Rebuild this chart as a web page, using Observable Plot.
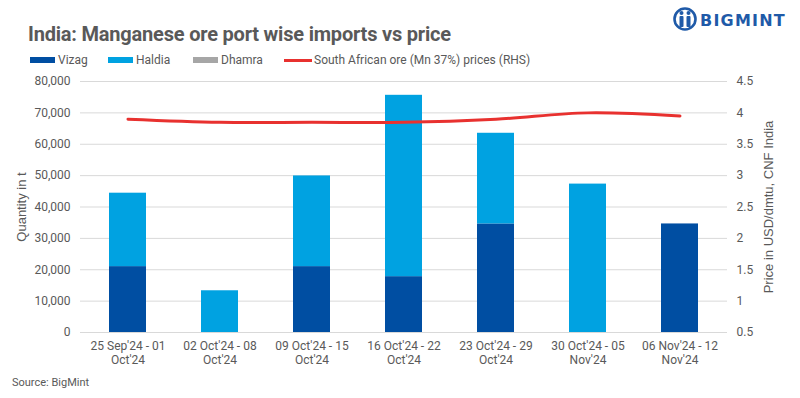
<!DOCTYPE html>
<html><head><meta charset="utf-8">
<script src="https://cdn.jsdelivr.net/npm/d3@7"></script>
<script src="https://cdn.jsdelivr.net/npm/@observablehq/plot@0.6"></script>
<style>
body{margin:0;width:800px;height:398px;overflow:hidden;background:#fff;font-family:Roboto,"Noto Sans",sans-serif;position:relative;color:#595959}
#title{position:absolute;left:28px;top:22px;font-size:20px;font-weight:700;color:#595959;letter-spacing:-0.2px}
#legend{position:absolute;left:0;top:52px;width:800px;height:16px;font-size:12px;color:#595959}
.item{position:absolute;top:0;display:flex;align-items:center;height:16px;white-space:nowrap}
.sw{display:inline-block;width:25px;height:6px;margin-right:3px}
#chart{position:absolute;left:0;top:70px}
#source{position:absolute;left:12px;top:376px;font-size:11px;color:#595959}
#logo{position:absolute;left:672px;top:5px}
</style></head>
<body>
<div id="title">India: Manganese ore port wise imports vs price</div>
<div id="legend"></div>
<div id="chart"></div>
<div id="source">Source: BigMint</div>
<svg id="logo" width="125" height="28" viewBox="0 0 125 28">
  <circle cx="13" cy="14" r="10.5" fill="none" stroke="#1f5aa8" stroke-width="2.6"/>
  <circle cx="9.5" cy="8" r="2" fill="#1f5aa8"/>
  <circle cx="16.5" cy="8" r="2" fill="#1f5aa8"/>
  <rect x="7.5" y="11" width="4" height="11" rx="1" fill="#1f5aa8"/>
  <rect x="14.5" y="11" width="4" height="11" rx="1" fill="#1f5aa8"/>
  <text x="28" y="21" font-family="'DejaVu Sans',sans-serif" font-weight="700" font-size="16" letter-spacing="1.2" fill="#1f5aa8">BIGMINT</text>
</svg>
<script>
const categories = ["25 Sep'24 - 01 Oct'24","02 Oct'24 - 08 Oct'24","09 Oct'24 - 15 Oct'24","16 Oct'24 - 22 Oct'24","23 Oct'24 - 29 Oct'24","30 Oct'24 - 05 Nov'24","06 Nov'24 - 12 Nov'24"];
const tickLabels = ["25 Sep'24 - 01\nOct'24","02 Oct'24 - 08\nOct'24","09 Oct'24 - 15\nOct'24","16 Oct'24 - 22\nOct'24","23 Oct'24 - 29\nOct'24","30 Oct'24 - 05\nNov'24","06 Nov'24 - 12\nNov'24"];
const ports = ["Vizag","Haldia","Dhamra"];
const portColors = ["#004EA2","#00A2E1","#A6A6A6"];
const vizag  = [21000, 0, 21000, 17800, 34600, 0, 34600];
const haldia = [23400, 13300, 28900, 57800, 28900, 47300, 0];
const dhamra = [0, 0, 0, 0, 0, 0, 0];
const priceLabel = "South African ore (Mn 37%) prices (RHS)";
const prices = [3.9, 3.85, 3.85, 3.85, 3.9, 4.0, 3.95];
const leftTicks = [0,10000,20000,30000,40000,50000,60000,70000,80000];
const rightTicks = [0.5,1,1.5,2,2.5,3,3.5,4,4.5];
const lineColor = "#E8312F";

// legend
const lg = document.getElementById("legend");
const legendX = [30,108,193];
ports.forEach((p,i)=>{
  const d=document.createElement("div");d.className="item";d.style.left=legendX[i]+"px";
  d.innerHTML=`<span class="sw" style="background:${portColors[i]}"></span>${p}`;
  lg.appendChild(d);
});
{
  const d=document.createElement("div");d.className="item";d.style.left="284px";
  d.innerHTML=`<span class="sw" style="background:${lineColor};height:3px;width:28px;margin-right:2px"></span>${priceLabel}`;
  lg.appendChild(d);
}

const series = {Vizag:vizag, Haldia:haldia, Dhamra:dhamra};
const rows = categories.flatMap((c,i)=>ports.map(p=>({cat:c, port:p, v:series[p][i]})));
const lineRows = categories.map((c,i)=>({cat:c, price:prices[i]}));
const labelMap = new Map(categories.map((c,i)=>[c,tickLabels[i]]));
// map price (RHS 0.5..4.5) onto left scale (0..80000)
const toLeft = p => (p-0.5)/(4.5-0.5)*80000;
const fromLeft = v => v/80000*(4.5-0.5)+0.5;

const chart = Plot.plot({
  width:800, height:305,
  marginTop:11, marginBottom:43, marginLeft:80, marginRight:73,
  style:{fontFamily:"Roboto, 'Noto Sans', sans-serif", fontSize:"12px", color:"#595959", background:"transparent"},
  x:{domain:categories, paddingInner:0.6, paddingOuter:0.3, label:null},
  y:{domain:[0,80000], label:null},
  color:{domain:ports, range:portColors},
  marks:[
    Plot.gridY(leftTicks,{stroke:"#d9d9d9", strokeOpacity:1}),
    Plot.axisY(leftTicks,{anchor:"left", tickSize:0, tickPadding:10, tickFormat:d3.format(","), label:null}),
    Plot.axisY(rightTicks.map(toLeft),{anchor:"right", tickSize:0, tickPadding:9, tickFormat:d=>String(+fromLeft(d).toFixed(2)), label:null}),
    Plot.text(["Quantity in t"],{frameAnchor:"left", textAnchor:"middle", dx:-59, rotate:-90, fontSize:13, fontFamily:"'Liberation Sans', Arial, sans-serif", fill:"#595959"}),
    Plot.text(["Price in USD/dmtu, CNF India"],{frameAnchor:"right", textAnchor:"middle", dx:41, rotate:-90, fontSize:13, fontFamily:"'Liberation Sans', Arial, sans-serif", fill:"#595959"}),
    Plot.axisX({tickSize:0, tickPadding:7, tickFormat:d=>labelMap.get(d), lineHeight:1.2}),
    Plot.barY(rows,{x:"cat", y:"v", fill:"port", order:ports}),
    Plot.ruleY([0],{stroke:"#d9d9d9"}),
    Plot.line(lineRows,{x:"cat", y:d=>toLeft(d.price), stroke:lineColor, strokeWidth:3, curve:"catmull-rom"})
  ]
});
document.getElementById("chart").appendChild(chart);
</script>
</body></html>
